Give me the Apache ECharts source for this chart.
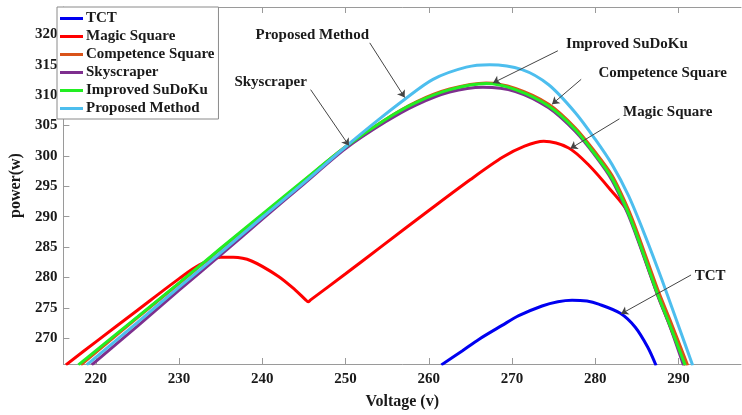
<!DOCTYPE html>
<html>
<head>
<meta charset="utf-8">
<script src="https://cdn.jsdelivr.net/npm/echarts@6/dist/echarts.min.js"></script>
<style>
  html, body { margin: 0; padding: 0; background: #fff; }
  #chart { width: 742px; height: 415px; }
</style>
</head>
<body>
<div id="chart"></div>
<script>
// tick values
const xTicks = [220, 230, 240, 250, 260, 270, 280, 290]
const yTicks = [270, 275, 280, 285, 290, 295, 300, 305, 310, 315, 320]

// series values, [voltage, power]
const tct = [[261.5, 265.6], [264, 267.9], [266, 269.8], [268.8, 272.1], [270.8, 273.7], [273.6, 275.3],
  [275.5, 276.0], [277.2, 276.25], [279, 276.1], [280.4, 275.6], [283, 274.1], [284.8, 271.8],
  [286.3, 268.5], [287.3, 265.5]]

const magicSquare = [[216.4, 265.6], [220, 269.4], [225, 274.6], [230, 279.8], [232.5, 282.1], [235, 283.3],
  [236.5, 283.3], [238.7, 282.7], [241.9, 280.2], [243.9, 278.0], [245.2, 276.3], [245.5, 276.0],
  [245.8, 276.3], [250, 280.6], [254.6, 285.4], [260, 291.0], [265, 296.1], [268.9, 299.8],
  [271.5, 301.6], [273.8, 302.4], [276.8, 301.3], [279.2, 298.5], [281.9, 294.3], [283.9, 290.8],
  [285.1, 286.4], [287.5, 277.1], [289, 271.9], [290.8, 265.5]]

const competenceSquare = [[218.2, 265.6], [225, 273.4], [230, 279.0], [235, 284.7], [240, 290.3], [245, 295.9],
  [250, 301.5], [254.8, 306.0], [258.5, 308.9], [262.5, 311.0], [266.9, 312.0], [270.4, 311.1],
  [274.4, 308.5], [277.6, 304.6], [280, 300.6], [282, 296.8], [283.9, 291.4], [285.1, 287.2],
  [287.5, 278.0], [289, 272.9], [291.1, 265.5]]

const skyscraper = [[219.5, 265.6], [225, 272.0], [230, 277.9], [235, 283.7], [240, 289.6], [245, 295.4],
  [250, 301.2], [254.8, 305.6], [258.5, 308.4], [262.5, 310.5], [266.5, 311.3], [270.4, 310.6],
  [274.4, 307.9], [277.6, 304.0], [280, 300.0], [282, 296.0], [283.9, 290.5], [285.1, 286.2],
  [287.5, 277.0], [289, 271.8], [290.6, 265.5]]

const improvedSudoku = [[217.9, 265.6], [225, 273.5], [230, 279.1], [235, 284.8], [240, 290.4], [245, 296.0],
  [250, 301.5], [254.8, 306.0], [258.5, 308.8], [262.5, 310.9], [266.9, 311.9], [270.4, 310.9],
  [274.4, 308.2], [277.6, 304.3], [280, 300.2], [282, 296.3], [283.9, 290.8], [285.1, 286.5],
  [287.5, 277.2], [289, 272.0], [290.8, 265.5]]

const proposed = [[218.9, 265.6], [225, 272.6], [230, 278.4], [235, 284.1], [240, 289.9], [245, 295.6],
  [250, 301.5], [254, 306.0], [257, 309.2], [260.5, 312.6], [264.5, 314.6], [267.3, 315.0],
  [271.2, 314.2], [274.4, 311.7], [277.6, 307.1], [280, 302.7], [282, 298.6], [284, 293.4],
  [286, 286.8], [288, 279.6], [290, 272.0], [291.7, 265.5]]

// annotations (data coords): text centre, arrow start, arrow tip
const noteText = ['TCT', 'Magic Square', 'Competence Square', 'Skyscraper', 'Improved SuDoKu', 'Proposed Method']
const noteAt = [[293.8, 280.2], [288.7, 307.2], [288.1, 313.7], [241.0, 312.1], [283.8, 318.4], [246.0, 319.8]]
const noteFrom = [[291.5, 280.4], [282.9, 306.1], [278.3, 312.6], [245.8, 310.9], [275.5, 317.3], [252.9, 318.6]]
const noteTo = [[283.1, 274.0], [277.0, 301.2], [274.8, 308.5], [250.4, 301.7], [267.7, 312.0], [257.1, 309.6]]

const names = ['TCT', 'Magic Square', 'Competence Square', 'Skyscraper', 'Improved SuDoKu', 'Proposed Method']
const colors = ['#0000f0', '#ff0000', '#d95319', '#7e2f8e', '#22ee22', '#4dbeee']
const values = [tct, magicSquare, competenceSquare, skyscraper, improvedSudoku, proposed]

const serif = 'Liberation Serif, Times New Roman, serif'
const axisGray = '#9a9a9a'

const chart = echarts.init(document.getElementById('chart'))

const series = names.map((name, i) => ({
  name,
  type: 'line',
  data: values[i],
  smooth: 0.3,
  showSymbol: false,
  color: colors[i],
  lineStyle: { width: 3, color: colors[i] },
  animation: false,
  markLine: {
    silent: true,
    symbol: ['none', 'arrow'],
    symbolSize: 7,
    lineStyle: { color: '#444', width: 1, type: 'solid' },
    label: { show: false },
    data: [[{ coord: noteFrom[i] }, { coord: noteTo[i] }]]
  },
  markPoint: {
    silent: true,
    symbol: 'rect',
    symbolSize: 1,
    itemStyle: { color: 'rgba(0,0,0,0)' },
    label: {
      show: true,
      position: 'inside',
      formatter: noteText[i],
      fontFamily: serif,
      fontWeight: 'bold',
      fontSize: 15,
      color: '#1a1a1a'
    },
    data: [{ coord: noteAt[i] }]
  }
}))

chart.setOption({
  animation: false,
  grid: { left: 57, right: 1, top: 7, bottom: 48 },
  legend: {
    data: names,
    orient: 'vertical',
    left: 57,
    top: 7,
    backgroundColor: '#fff',
    borderColor: '#8a8a8a',
    borderWidth: 1,
    borderRadius: 0,
    padding: [4, 4, 3, 3],
    itemGap: 3,
    itemWidth: 23,
    itemHeight: 3,
    icon: 'rect',
    textStyle: { fontFamily: serif, fontWeight: 'bold', fontSize: 15, color: '#1a1a1a', lineHeight: 15, padding: [0, 0, 0, -2] }
  },
  xAxis: [
    {
      type: 'value',
      min: 216.1,
      max: 297.5,
      name: 'Voltage (v)',
      nameLocation: 'middle',
      nameGap: 30,
      nameTextStyle: { fontFamily: serif, fontWeight: 'bold', fontSize: 16, color: '#1a1a1a' },
      axisLine: { show: true, lineStyle: { color: axisGray } },
      axisTick: { inside: true, length: 6, customValues: xTicks, lineStyle: { color: axisGray } },
      axisLabel: { customValues: xTicks, margin: 8, fontFamily: serif, fontWeight: 'bold', fontSize: 15, color: '#1a1a1a' },
      splitLine: { show: false }
    },
    {
      type: 'value',
      position: 'top',
      min: 216.1,
      max: 297.5,
      axisLine: { show: true, lineStyle: { color: axisGray } },
      axisTick: { inside: true, length: 6, customValues: xTicks, lineStyle: { color: axisGray } },
      axisLabel: { show: false },
      splitLine: { show: false }
    }
  ],
  yAxis: {
    type: 'value',
    min: 265.75,
    max: 324.5,
    name: 'power(w)',
    nameLocation: 'middle',
    nameRotate: 90,
    nameGap: 36,
    nameTextStyle: { fontFamily: serif, fontWeight: 'bold', fontSize: 16, color: '#1a1a1a' },
    axisLine: { show: true, lineStyle: { color: axisGray } },
    axisTick: { inside: true, length: 6, customValues: yTicks, lineStyle: { color: axisGray } },
    axisLabel: { customValues: yTicks, margin: 6, fontFamily: serif, fontWeight: 'bold', fontSize: 15, color: '#1a1a1a' },
    splitLine: { show: false }
  },
  series
})
</script>
</body>
</html>
